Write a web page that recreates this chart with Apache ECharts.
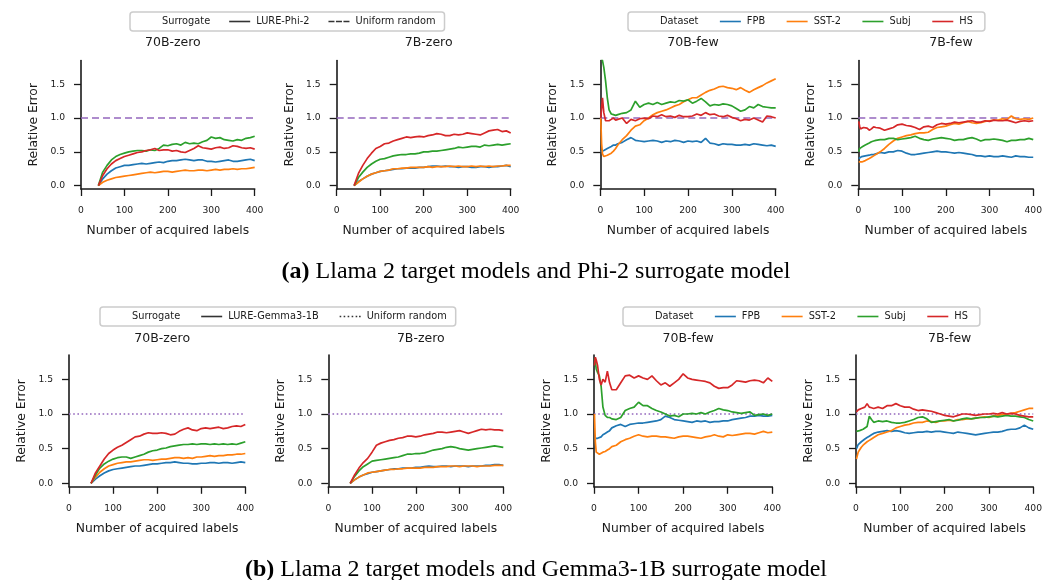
<!DOCTYPE html>
<html><head><meta charset="utf-8">
<script src="https://cdn.jsdelivr.net/npm/echarts@6/dist/echarts.min.js"></script>
<style>html,body{margin:0;padding:0;background:#fff}#c{width:1045px;height:580px}</style>
</head><body><div id="c"></div>
<script>
// ---------- x positions ----------
const xZeroA = [40,50,60,70,80,90,100,110,120,130,140,150,160,170,180,190,200,210,220,230,240,250,260,270,280,290,300,310,320,330,340,350,360,370,380,390,400];
const xZeroB = [50,60,70,80,90,100,110,120,130,140,150,160,170,180,190,200,210,220,230,240,250,260,270,280,290,300,310,320,330,340,350,360,370,380,390,400];
const xFew = [1,3,5,8,12,16,20,25,30,35,40,50,60,70,80,90,100,110,120,130,140,150,160,170,180,190,200,210,220,230,240,250,260,270,280,290,300,310,320,330,340,350,360,370,380,390,400];

const datasets = ['FPB','SST-2','Subj','HS'];
const yTicks = [0,0.5,1.0,1.5];
const xTicks = [0,100,200,300,400];

// ---------- (a) Phi-2 surrogate ----------
const a70zFPB  = [0,.10,.17,.22,.26,.28,.30,.30,.31,.32,.33,.32,.33,.34,.35,.34,.36,.37,.37,.38,.39,.38,.37,.38,.38,.36,.36,.35,.36,.37,.38,.36,.36,.37,.38,.39,.37];
const a70zSST  = [0,.05,.08,.10,.12,.13,.14,.15,.16,.17,.18,.19,.20,.19,.20,.21,.21,.20,.21,.22,.23,.22,.22,.23,.23,.22,.23,.24,.23,.24,.24,.25,.24,.25,.25,.26,.27];
const a70zSubj = [0,.20,.30,.38,.43,.46,.48,.50,.51,.52,.52,.51,.53,.52,.55,.60,.59,.61,.62,.60,.64,.62,.63,.62,.65,.67,.72,.70,.71,.68,.67,.66,.68,.67,.70,.71,.73];
const a70zHS   = [0,.15,.25,.32,.37,.40,.43,.45,.47,.49,.50,.52,.53,.55,.52,.53,.53,.51,.52,.50,.49,.52,.55,.59,.56,.55,.54,.56,.57,.55,.56,.59,.58,.56,.55,.56,.54];

const a7zFPB  = [0,.06,.10,.14,.17,.19,.21,.22,.23,.24,.25,.25,.26,.26,.26,.27,.27,.28,.29,.29,.28,.29,.28,.28,.27,.28,.28,.27,.27,.28,.28,.27,.28,.28,.29,.30,.28];
const a7zSST  = [0,.05,.10,.14,.17,.19,.21,.22,.23,.25,.25,.26,.26,.27,.27,.27,.27,.28,.27,.28,.28,.28,.29,.28,.29,.28,.28,.29,.28,.29,.28,.29,.28,.29,.29,.30,.30];
const a7zSubj = [0,.12,.20,.27,.32,.36,.39,.40,.42,.44,.45,.46,.46,.47,.47,.48,.50,.50,.51,.51,.52,.53,.54,.55,.57,.56,.57,.58,.58,.57,.60,.59,.60,.61,.60,.61,.62];
const a7zHS   = [0,.18,.30,.40,.48,.55,.58,.62,.63,.66,.68,.70,.72,.71,.72,.73,.72,.74,.75,.77,.76,.74,.74,.76,.75,.76,.78,.77,.76,.75,.78,.81,.82,.83,.80,.81,.78];

const a70fFPB  = [.50,.49,.50,.52,.53,.55,.56,.58,.60,.60,.62, .64,.68,.71,.67,.66,.65,.66,.67,.66,.64,.66,.65,.67,.66,.64,.66,.65,.66,.64,.70,.63,.62,.60,.62,.61,.61,.60,.60,.61,.60,.62,.61,.60,.59,.60,.58];
const a70fSST  = [1.0,.62,.47,.43,.43,.45,.46,.48,.51,.55,.60, .68,.74,.82,.88,.90,.96,1.0,1.05,1.08,1.10,1.12,1.15,1.18,1.20,1.24,1.27,1.30,1.30,1.34,1.38,1.41,1.43,1.46,1.47,1.45,1.44,1.42,1.45,1.41,1.38,1.42,1.45,1.48,1.52,1.55,1.58];
const a70fSubj = [1.95,1.9,1.85,1.75,1.55,1.3,1.12,1.06,1.05,1.04,1.05, 1.07,1.08,1.12,1.25,1.16,1.20,1.22,1.20,1.23,1.20,1.22,1.24,1.23,1.26,1.25,1.27,1.22,1.25,1.29,1.24,1.18,1.20,1.19,1.21,1.20,1.18,1.14,1.10,1.12,1.17,1.15,1.20,1.17,1.16,1.15,1.15];
const a70fHS   = [1.0,1.15,1.30,1.08,.96,.94,.96,.98,1.0,.97,.98, 1.0,.92,.98,.96,.99,1.0,.99,1.03,1.02,1.05,1.02,1.03,1.01,1.04,1.02,1.02,1.03,1.06,1.04,1.08,1.05,1.06,1.03,1.02,1.04,1.01,.99,.96,.98,.97,1.0,.97,.94,1.03,1.02,1.0];

const a7fFPB  = [.40,.41,.42,.43,.44,.44,.44,.45,.46,.46,.47, .49,.48,.50,.50,.52,.51,.48,.46,.46,.47,.48,.49,.50,.51,.50,.50,.49,.48,.49,.48,.47,.46,.44,.44,.43,.44,.43,.43,.44,.43,.42,.44,.43,.43,.42,.42];
const a7fSST  = [.35,.34,.34,.35,.36,.37,.38,.40,.42,.44,.46, .50,.55,.61,.66,.70,.72,.74,.75,.77,.78,.78,.79,.83,.86,.87,.88,.90,.92,.91,.93,.95,.93,.92,.93,.95,.96,.97,.97,.99,.98,1.03,.99,.98,.99,.98,1.0];
const a7fSubj = [.50,.55,.56,.57,.58,.60,.61,.63,.65,.66,.67, .68,.68,.70,.70,.68,.69,.70,.71,.73,.70,.68,.67,.69,.70,.71,.70,.69,.67,.68,.68,.70,.71,.69,.66,.68,.68,.69,.68,.67,.65,.67,.67,.68,.68,.70,.68];
const a7fHS   = [.95,.88,.84,.83,.86,.88,.85,.82,.84,.87,.86, .85,.82,.84,.86,.90,.91,.89,.88,.86,.83,.87,.88,.86,.90,.92,.91,.92,.94,.93,.94,.95,.96,.94,.94,.96,.95,.97,.96,.96,.97,.95,.93,.95,.96,.95,.96];

// ---------- (b) Gemma3-1B surrogate ----------
const b70zFPB  = [0,.06,.11,.15,.18,.20,.21,.22,.23,.24,.25,.25,.26,.27,.28,.28,.29,.30,.30,.31,.30,.29,.29,.28,.28,.29,.29,.30,.30,.29,.30,.30,.29,.30,.31,.30];
const b70zSST  = [0,.09,.16,.21,.25,.27,.29,.30,.31,.31,.32,.33,.34,.34,.33,.34,.35,.35,.36,.37,.37,.36,.37,.36,.38,.38,.39,.40,.39,.40,.40,.41,.41,.42,.42,.43];
const b70zSubj = [0,.12,.22,.28,.32,.35,.37,.38,.38,.36,.38,.40,.42,.45,.47,.48,.50,.51,.53,.54,.55,.56,.56,.57,.56,.57,.57,.56,.57,.56,.57,.56,.57,.56,.58,.60];
const b70zHS   = [0,.15,.25,.35,.43,.48,.52,.55,.59,.63,.67,.68,.71,.73,.72,.72,.73,.72,.70,.71,.75,.78,.80,.77,.76,.79,.80,.79,.80,.81,.79,.80,.82,.83,.82,.85];

const b7zFPB  = [0,.05,.09,.12,.14,.16,.17,.18,.19,.20,.21,.21,.22,.22,.22,.23,.23,.24,.25,.24,.24,.25,.25,.24,.25,.25,.25,.24,.25,.25,.25,.26,.26,.27,.27,.26];
const b7zSST  = [0,.05,.09,.12,.15,.16,.17,.18,.19,.20,.20,.21,.21,.22,.22,.22,.22,.23,.23,.23,.24,.24,.24,.25,.25,.24,.25,.25,.25,.24,.25,.25,.25,.26,.26,.26];
const b7zSubj = [0,.10,.18,.24,.28,.32,.33,.34,.35,.36,.37,.38,.40,.42,.42,.43,.43,.44,.46,.48,.49,.50,.52,.53,.52,.50,.49,.48,.49,.50,.51,.52,.53,.54,.53,.52];
const b7zHS   = [0,.12,.22,.30,.36,.45,.55,.58,.60,.62,.63,.65,.66,.68,.68,.67,.68,.70,.71,.72,.74,.74,.73,.74,.75,.76,.74,.72,.74,.76,.78,.77,.78,.77,.77,.76];

const b70fFPB  = [.65,.66,.64,.65,.66,.67,.70,.72,.74,.76,.80, .83,.85,.82,.85,.86,.87,.87,.88,.89,.90,.92,.97,.95,.92,.91,.90,.89,.88,.90,.89,.90,.88,.89,.89,.90,.90,.92,.93,.94,.95,.97,.97,.98,.97,.97,.98];
const b70fSST  = [1.0,.60,.45,.43,.42,.43,.45,.46,.48,.50,.53, .55,.60,.63,.65,.68,.70,.68,.67,.68,.68,.67,.67,.66,.65,.67,.68,.68,.67,.66,.65,.67,.68,.70,.68,.67,.70,.69,.70,.71,.72,.72,.71,.73,.75,.73,.74];
const b70fSubj = [1.8,1.75,1.65,1.6,1.55,1.4,1.1,.98,.95,.95,.93, .92,.95,1.05,1.08,1.10,1.17,1.12,1.12,1.08,1.05,1.03,1.0,.97,.98,.96,1.0,1.0,1.01,1.0,1.02,1.0,1.03,1.05,1.08,1.06,1.05,1.03,1.02,1.01,1.02,1.03,.98,.99,1.0,.98,1.0];
const b70fHS   = [1.7,1.82,1.78,1.7,1.5,1.42,1.5,1.46,1.62,1.45,1.35, 1.35,1.45,1.55,1.56,1.52,1.55,1.52,1.50,1.55,1.48,1.42,1.45,1.40,1.45,1.50,1.58,1.52,1.50,1.49,1.48,1.47,1.45,1.40,1.37,1.38,1.38,1.42,1.48,1.47,1.46,1.48,1.49,1.48,1.45,1.52,1.47];

const b7fFPB  = [.50,.53,.56,.58,.60,.62,.64,.66,.68,.70,.72, .74,.75,.76,.75,.76,.75,.73,.72,.73,.74,.74,.75,.74,.75,.75,.74,.73,.72,.74,.73,.72,.71,.70,.71,.72,.73,.74,.74,.75,.77,.78,.78,.80,.84,.80,.78];
const b7fSST  = [.35,.40,.45,.48,.52,.55,.57,.60,.62,.64,.66, .70,.72,.74,.76,.80,.82,.84,.85,.87,.88,.88,.90,.89,.88,.90,.90,.91,.90,.92,.92,.93,.93,.94,.95,.96,.95,.97,.98,.99,1.0,1.01,1.02,1.04,1.06,1.08,1.08];
const b7fSubj = [.75,.76,.77,.76,.77,.78,.78,.82,.97,.92,.88, .90,.89,.90,.88,.87,.87,.88,.90,.92,.95,.96,.93,.88,.89,.90,.91,.92,.90,.91,.93,.94,.93,.94,.95,.95,.96,.97,.96,.97,.98,.97,.97,.96,.95,.92,.90];
const b7fHS   = [1.03,1.05,1.06,1.07,1.08,1.09,1.10,1.15,1.10,1.09,1.08, 1.10,1.08,1.12,1.12,1.15,1.12,1.10,1.10,1.07,1.05,1.06,1.05,1.04,1.02,1.0,.98,.97,.96,.98,1.0,1.0,.99,.98,.99,1.0,1.0,1.01,1.0,1.02,1.0,1.01,1.0,.98,.97,.96,.96];

const uniformLevel = 1.0;

// ---------- layout ----------
const colors = {'FPB':'#1f77b4','SST-2':'#ff7f0e','Subj':'#2ca02c','HS':'#d62728'};
const purple = '#9467bd';
const FONT = 'DejaVu Sans';
const INK = '#1a1a1a';

const panels = [
  {g:{left:81,   top:60.6, width:173.7, height:128.4}, x:xZeroA, ys:[a70zFPB,a70zSST,a70zSubj,a70zHS], title:'70B-zero', row:0},
  {g:{left:336.7,top:60.6, width:174,   height:128.4}, x:xZeroA, ys:[a7zFPB,a7zSST,a7zSubj,a7zHS],     title:'7B-zero',  row:0},
  {g:{left:600.3,top:60.6, width:175.4, height:128.4}, x:xFew,   ys:[a70fFPB,a70fSST,a70fSubj,a70fHS], title:'70B-few',  row:0},
  {g:{left:858.3,top:60.6, width:175.4, height:128.4}, x:xFew,   ys:[a7fFPB,a7fSST,a7fSubj,a7fHS],     title:'7B-few',   row:0},
  {g:{left:69,   top:355.1,width:176.3, height:131.7}, x:xZeroB, ys:[b70zFPB,b70zSST,b70zSubj,b70zHS], title:'70B-zero', row:1},
  {g:{left:328.3,top:355.1,width:175,   height:131.7}, x:xZeroB, ys:[b7zFPB,b7zSST,b7zSubj,b7zHS],     title:'7B-zero',  row:1},
  {g:{left:594,  top:355.1,width:178.3, height:131.7}, x:xFew,   ys:[b70fFPB,b70fSST,b70fSubj,b70fHS], title:'70B-few',  row:1},
  {g:{left:856,  top:355.1,width:177.3, height:131.7}, x:xFew,   ys:[b7fFPB,b7fSST,b7fSubj,b7fHS],     title:'7B-few',   row:1}
];
const refDash = [[7,4],[1.6,2.6]];

const grid=[], xAxis=[], yAxis=[], series=[], title=[];
panels.forEach((p,i)=>{
  grid.push(Object.assign({containLabel:false}, p.g));
  xAxis.push({type:'value', gridIndex:i, min:0, max:400, interval:100,
    name:'Number of acquired labels', nameLocation:'middle', nameGap:36,
    nameTextStyle:{fontFamily:FONT, fontSize:12.3, color:INK},
    axisLine:{onZero:false, lineStyle:{color:INK, width:1.6}},
    axisTick:{length:7, lineStyle:{color:INK, width:1.3}},
    axisLabel:{margin:17, fontFamily:FONT, fontSize:9.2, color:INK},
    splitLine:{show:false}});
  yAxis.push({type:'value', gridIndex:i, min:-0.05, max:1.85,
    name:'Relative Error', nameLocation:'middle', nameGap:41,
    nameTextStyle:{fontFamily:FONT, fontSize:12.3, color:INK},
    axisLine:{show:true, lineStyle:{color:INK, width:1.6}},
    axisTick:{show:true, length:7, customValues:yTicks, lineStyle:{color:INK, width:1.3}},
    axisLabel:{margin:16, customValues:yTicks, fontFamily:FONT, fontSize:9.2, color:INK, formatter:v=>v.toFixed(1)},
    splitLine:{show:false}});
  series.push({type:'line', name:'_ref'+i, xAxisIndex:i, yAxisIndex:i, symbol:'none', silent:true,
    data:[[xTicks[0],uniformLevel],[xTicks[xTicks.length-1],uniformLevel]],
    lineStyle:{color:purple, width:1.5, type:refDash[p.row]}, itemStyle:{color:purple}, z:1});
  datasets.forEach((d,k)=>{
    series.push({type:'line', name:d, xAxisIndex:i, yAxisIndex:i, symbol:'none',
      data:p.x.map((xv,j)=>[xv,p.ys[k][j]]),
      lineStyle:{color:colors[d], width:1.7}, itemStyle:{color:colors[d]}, z:2});
  });
  title.push({text:p.title, left:p.g.left+p.g.width/2, top:(p.row===0?31.5:327), textAlign:'center',
    textStyle:{fontFamily:FONT, fontSize:12.5, fontWeight:'normal', color:INK}});
});
// legend-only series
const dummy=(name,color)=>({type:'line', name, xAxisIndex:0, yAxisIndex:0, data:[], symbol:'none',
  lineStyle:{color, width:1.5}, itemStyle:{color}});
series.push(dummy('Surrogate','rgba(0,0,0,0)'));
series.push(dummy('Dataset','rgba(0,0,0,0)'));
series.push(dummy('LURE-Phi-2','#333'));
series.push(dummy('LURE-Gemma3-1B','#333'));
series.push(dummy('Uniform random','#333'));

const capStyle = {fontFamily:'Liberation Serif', fontSize:24, fontWeight:'normal', color:'#000',
  rich:{b:{fontFamily:'Liberation Serif', fontSize:24, fontWeight:'bold', color:'#000'}}};
title.push({text:'{b|(a)} Llama 2 target models and Phi-2 surrogate model', left:531, top:255, textAlign:'center', textStyle:capStyle});
title.push({text:'{b|(b)} Llama 2 target models and Gemma3-1B surrogate model', left:531, top:553, textAlign:'center', textStyle:capStyle});

const ICON_SOLID  = 'path://M0,0h21v1.6h-21z';
const ICON_DASHED = 'path://M0,0h6v1.6h-6zM7.5,0h6v1.6h-6zM15,0h6v1.6h-6z';
const ICON_DOTTED = 'path://M0,0h1.6v1.6h-1.6zM4,0h1.6v1.6h-1.6zM8,0h1.6v1.6h-1.6zM12,0h1.6v1.6h-1.6zM16,0h1.6v1.6h-1.6zM19.4,0h1.6v1.6h-1.6z';

const legBase = {orient:'horizontal', itemWidth:21, itemHeight:11, itemGap:19, padding:[4,9,4,5],
  borderColor:'#cccccc', borderWidth:1.5, borderRadius:3, backgroundColor:'#fff', selectedMode:false,
  icon:ICON_SOLID,
  textStyle:{fontFamily:FONT, fontSize:9.8, color:INK, padding:[0,0,0,1]}};
const hdr = n=>({name:n, icon:'rect', itemStyle:{color:'rgba(0,0,0,0)', borderWidth:0}});
const legend = [
  Object.assign({}, legBase, {left:130, top:12, data:[hdr('Surrogate'),'LURE-Phi-2',{name:'Uniform random', icon:ICON_DASHED}]}),
  Object.assign({}, legBase, {left:628, top:12, itemGap:21.5, padding:[4,12,4,5], data:[hdr('Dataset'),'FPB','SST-2','Subj','HS']}),
  Object.assign({}, legBase, {left:100, top:307, itemGap:21, data:[hdr('Surrogate'),'LURE-Gemma3-1B',{name:'Uniform random', icon:ICON_DOTTED}]}),
  Object.assign({}, legBase, {left:623, top:307, itemGap:21.5, padding:[4,12,4,5], data:[hdr('Dataset'),'FPB','SST-2','Subj','HS']})
];

const chart = echarts.init(document.getElementById('c'), null, {renderer:'canvas'});
chart.setOption({animation:false, backgroundColor:'#fff', grid, xAxis, yAxis, series, title, legend});
</script></body></html>
